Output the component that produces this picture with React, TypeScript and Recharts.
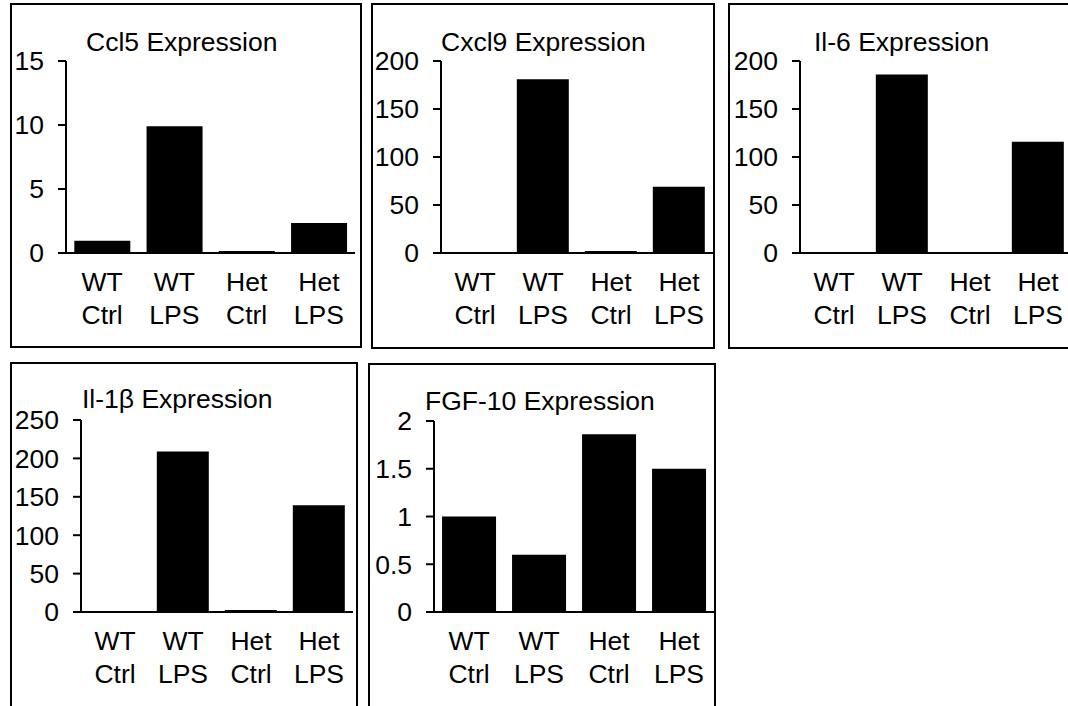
import React from "react";
import { BarChart, Bar, XAxis, YAxis } from "recharts";

const groups = ["WT", "WT", "Het", "Het"];
const treatments = ["Ctrl", "LPS", "Ctrl", "LPS"];

const ccl5 = [0.95, 9.9, 0.15, 2.35];
const cxcl9 = [0.6, 181, 2, 69];
const il6 = [0.6, 186, 1, 116];
const il1b = [0.6, 209, 2.5, 139];
const fgf10 = [1.0, 0.6, 1.86, 1.5];

const ccl5Ticks = [0, 5, 10, 15];
const cxcl9Ticks = [0, 50, 100, 150, 200];
const il6Ticks = [0, 50, 100, 150, 200];
const il1bTicks = [0, 50, 100, 150, 200, 250];
const fgf10Ticks = [0, 0.5, 1, 1.5, 2];

const FONT = "'Liberation Sans', Arial, sans-serif";
const FS = 26.5;

const toRows = (values: number[]) =>
  values.map((v, i) => ({ name: `${groups[i]} ${treatments[i]}`, value: v }));

function CategoryTick(props: any) {
  const { x, y, payload } = props;
  const i = payload.index;
  return (
    <text x={x} y={y} textAnchor="middle" fontSize={FS} fontFamily={FONT} fill="#000">
      <tspan x={x} dy={38}>{groups[i]}</tspan>
      <tspan x={x} dy={33}>{treatments[i]}</tspan>
    </text>
  );
}

type PanelProps = {
  title: string;
  values: number[];
  ticks: number[];
  left: number;
  top: number;
  width: number;
  height: number;
  axisX: number;
  plotTop: number;
  plotBottom: number;
  plotRight: number;
  titleLeft: number;
  titleMid: number;
};

function Panel(p: PanelProps) {
  const data = toRows(p.values);
  const max = p.ticks[p.ticks.length - 1];
  return (
    <div style={{ position: "absolute", left: p.left, top: p.top, width: p.width, height: p.height }}>
      <div
        style={{
          position: "absolute",
          inset: 0,
          border: "2px solid #000",
          boxSizing: "border-box",
        }}
      />
      <div style={{ position: "absolute", left: 0, top: 0 }}>
        <BarChart
          width={p.width}
          height={p.height}
          data={data}
          barCategoryGap="11.5%"
          margin={{
            top: p.plotTop - p.top,
            left: 0,
            right: p.left + p.width - p.plotRight,
            bottom: 0,
          }}
        >
          <XAxis
            dataKey="name"
            height={p.height - (p.plotBottom - p.top)}
            axisLine={{ stroke: "#000", strokeWidth: 2 }}
            tickLine={false}
            tickSize={0}
            tickMargin={0}
            interval={0}
            tick={<CategoryTick />}
          />
          <YAxis
            width={p.axisX - p.left}
            domain={[0, max]}
            ticks={p.ticks}
            allowDataOverflow
            axisLine={{ stroke: "#000", strokeWidth: 2 }}
            tickLine={{ stroke: "#000", strokeWidth: 2 }}
            tickSize={8}
            tickMargin={14}
            tick={{ fill: "#000", fontSize: FS, fontFamily: FONT }}
          />
          <Bar dataKey="value" fill="#000" isAnimationActive={false} />
        </BarChart>
      </div>
      <div
        style={{
          position: "absolute",
          left: p.titleLeft - p.left,
          top: p.titleMid - p.top - 13,
          fontFamily: FONT,
          fontSize: FS,
          lineHeight: `${FS}px`,
          whiteSpace: "nowrap",
          color: "#000",
        }}
      >
        {p.title}
      </div>
    </div>
  );
}

export default function App() {
  return (
    <div
      style={{
        position: "absolute",
        left: 0,
        top: 0,
        width: 1068,
        height: 706,
        overflow: "hidden",
        background: "#fff",
      }}
    >
      <Panel title="Ccl5 Expression" values={ccl5} ticks={ccl5Ticks}
        left={10} top={3} width={352} height={345}
        axisX={66} plotTop={61} plotBottom={253} plotRight={355}
        titleLeft={86} titleMid={42} />
      <Panel title="Cxcl9 Expression" values={cxcl9} ticks={cxcl9Ticks}
        left={371} top={3} width={344} height={346}
        axisX={441} plotTop={61} plotBottom={253} plotRight={713}
        titleLeft={441} titleMid={42} />
      <Panel title="Il-6 Expression" values={il6} ticks={il6Ticks}
        left={728} top={3} width={352} height={346}
        axisX={800} plotTop={61} plotBottom={253} plotRight={1072}
        titleLeft={814} titleMid={42} />
      <Panel title="Il-1β Expression" values={il1b} ticks={il1bTicks}
        left={10} top={362} width={348} height={360}
        axisX={81} plotTop={420} plotBottom={612} plotRight={353}
        titleLeft={82} titleMid={399} />
      <Panel title="FGF-10 Expression" values={fgf10} ticks={fgf10Ticks}
        left={368} top={363} width={348} height={360}
        axisX={434} plotTop={421} plotBottom={612} plotRight={714}
        titleLeft={425} titleMid={401} />
    </div>
  );
}
